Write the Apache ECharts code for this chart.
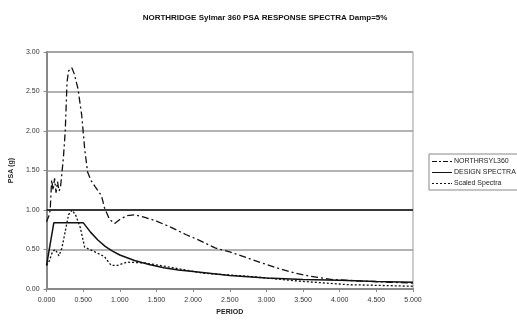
<!DOCTYPE html>
<html>
<head>
<meta charset="utf-8">
<script src="https://cdn.jsdelivr.net/npm/echarts@6/dist/echarts.min.js"></script>
<style>
  html, body { margin: 0; padding: 0; background: #fff; }
  #chart { width: 517px; height: 321px; }
</style>
</head>
<body>
<div id="chart"></div>
<script>
var northSyl = [
    [0, 0.85], [0.03, 0.92], [0.05, 1.0], [0.07, 1.38], [0.09, 1.25], [0.11, 1.40],
    [0.13, 1.22], [0.15, 1.36], [0.17, 1.24], [0.19, 1.28], [0.23, 1.66], [0.255, 1.99],
    [0.28, 2.62], [0.30, 2.76], [0.345, 2.80], [0.38, 2.72], [0.43, 2.53], [0.48, 2.2],
    [0.52, 1.78], [0.56, 1.48], [0.61, 1.37], [0.66, 1.30], [0.75, 1.18], [0.79, 1.03],
    [0.86, 0.88], [0.93, 0.83], [1.0, 0.88], [1.1, 0.93], [1.2, 0.94], [1.33, 0.91],
    [1.5, 0.86], [1.7, 0.78], [1.9, 0.69], [2.1, 0.61], [2.3, 0.52], [2.5, 0.47],
    [2.75, 0.39], [3.0, 0.31], [3.2, 0.25], [3.4, 0.20], [3.6, 0.16], [3.9, 0.12],
    [4.3, 0.10], [4.7, 0.085], [5.0, 0.075]
];
var designSpectra = [
    [0, 0.30], [0.1, 0.84], [0.5, 0.84], [0.6, 0.72], [0.7, 0.62], [0.8, 0.54],
    [0.9, 0.48], [1.0, 0.43], [1.2, 0.36], [1.4, 0.31], [1.6, 0.27], [1.8, 0.24],
    [2.0, 0.22], [2.5, 0.17], [3.0, 0.14], [3.5, 0.12], [4.0, 0.11], [4.5, 0.095],
    [5.0, 0.085]
];
var scaledSpectra = [
    [0, 0.30], [0.04, 0.36], [0.08, 0.47], [0.12, 0.50], [0.17, 0.42], [0.21, 0.52],
    [0.26, 0.75], [0.30, 0.94], [0.35, 1.0], [0.40, 0.93], [0.46, 0.78], [0.52, 0.53],
    [0.66, 0.47], [0.79, 0.41], [0.88, 0.30], [0.97, 0.30], [1.10, 0.34], [1.33, 0.33],
    [1.6, 0.29], [1.96, 0.23], [2.14, 0.20], [2.76, 0.16], [3.44, 0.10], [4.11, 0.055],
    [5.0, 0.035]
];
var seriesNames = ['NORTHRSYL360', 'DESIGN SPECTRA', 'Scaled Spectra'];

// legend icons drawn as small dash patterns (20 x 1)
var iconDashDot = 'path://M0,0h5v1h-5z M7,0h2v1h-2z M11,0h5v1h-5z M18,0h2v1h-2z';
var iconSolid = 'path://M0,0h20v1h-20z';
var iconDot = 'path://M0,0h2v1h-2z M4,0h2v1h-2z M8,0h2v1h-2z M12,0h2v1h-2z M16,0h2v1h-2z M19,0h1v1h-1z';

var myChart = echarts.init(document.getElementById('chart'));
myChart.setOption({
    animation: false,
    title: {
        text: 'NORTHRIDGE Sylmar 360 PSA RESPONSE SPECTRA Damp=5%',
        left: 260,
        textAlign: 'center',
        top: 9,
        textStyle: { fontFamily: 'Liberation Sans', fontSize: 8, fontWeight: 'bold', color: '#111' }
    },
    legend: {
        data: [
            { name: seriesNames[0], icon: iconDashDot },
            { name: seriesNames[1], icon: iconSolid },
            { name: seriesNames[2], icon: iconDot }
        ],
        orient: 'vertical',
        left: 429,
        top: 154,
        itemWidth: 20,
        itemHeight: 1.5,
        itemGap: 4,
        padding: [4, 3, 3, 3],
        borderColor: '#888',
        borderWidth: 1,
        backgroundColor: '#fff',
        itemStyle: { color: '#111' },
        textStyle: { fontFamily: 'Liberation Sans', fontSize: 7, color: '#222', padding: [0, 0, 0, -3] }
    },
    grid: {
        left: 41, right: 104, top: 52, bottom: 28,
        show: true, borderColor: '#999', borderWidth: 1
    },
    xAxis: {
        type: 'value',
        min: 0, max: 5, interval: 0.5,
        name: 'PERIOD',
        nameLocation: 'middle',
        nameGap: 20,
        nameTextStyle: { fontFamily: 'Liberation Sans', fontSize: 7, fontWeight: 'bold', color: '#222' },
        axisLine: { onZero: false, lineStyle: { color: '#888', width: 2 } },
        axisTick: { show: true, length: 3, lineStyle: { color: '#888' } },
        axisLabel: {
            fontFamily: 'Liberation Sans', fontSize: 7, color: '#333', margin: 8,
            formatter: function (v) { return v.toFixed(3); }
        },
        splitLine: { show: false }
    },
    yAxis: {
        type: 'value',
        min: 0, max: 3, interval: 0.5,
        name: 'PSA (g)',
        nameLocation: 'middle',
        nameGap: 26,
        nameTextStyle: { fontFamily: 'Liberation Sans', fontSize: 7, fontWeight: 'bold', color: '#222' },
        axisLine: { show: true, lineStyle: { color: '#888', width: 2 } },
        axisTick: { show: true, length: 3, lineStyle: { color: '#888' } },
        axisLabel: {
            fontFamily: 'Liberation Sans', fontSize: 7, color: '#333', margin: 7,
            formatter: function (v) { return v.toFixed(2); }
        },
        splitLine: { show: true, lineStyle: { color: '#999', width: 1.5 } }
    },
    series: [
        {
            name: seriesNames[0], type: 'line', data: northSyl, symbol: 'none',
            lineStyle: { color: '#111', width: 1.3, type: [7, 3, 2, 3] },
            itemStyle: { color: '#111' },
            markLine: {
                silent: true, symbol: 'none', label: { show: false },
                lineStyle: { color: '#111', width: 1.5, type: 'solid' },
                data: [{ yAxis: 1 }]
            }
        },
        {
            name: seriesNames[1], type: 'line', data: designSpectra, symbol: 'none',
            lineStyle: { color: '#111', width: 1.5, type: 'solid' },
            itemStyle: { color: '#111' }
        },
        {
            name: seriesNames[2], type: 'line', data: scaledSpectra, symbol: 'none',
            lineStyle: { color: '#111', width: 1.3, type: [2, 2] },
            itemStyle: { color: '#111' }
        }
    ]
});
</script>
</body>
</html>
